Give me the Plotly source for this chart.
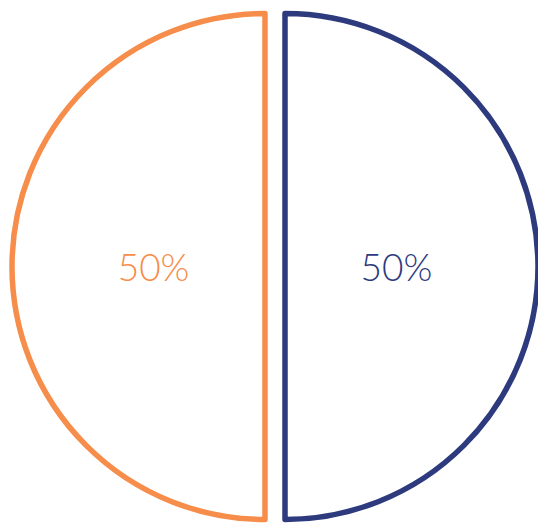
import plotly.graph_objects as go

labels = ["Right", "Left"]
values = [50, 50]
names = ["navy", "orange"]
colors = {"orange": "#F68D4A", "navy": "#2D3A7E"}

total = sum(values)
pct = [f"{v / total * 100:.0f}%" for v in values]

W, H = 538, 527
# each half drawn by its own pie trace so the two halves can sit apart
domains = {
    "orange": dict(x=[12.0 / W, 518.0 / W], y=[7.5 / H, 513.5 / H]),
    "navy": dict(x=[32.0 / W, 538.0 / W], y=[7.5 / H, 513.5 / H]),
}
# non-breaking spaces nudge each label toward the straight edge
pad = "\u00a0" * 3

fig = go.Figure()
for i, name in enumerate(names):
    c = colors[name]
    fills = ["rgba(0,0,0,0)"] * len(values)
    lines = ["rgba(0,0,0,0)"] * len(values)
    texts = [""] * len(values)
    fills[i] = "white"
    lines[i] = c
    texts[i] = (pct[i] + pad) if name == "navy" else (pad + pct[i])
    fig.add_trace(go.Pie(
        labels=labels,
        values=values,
        sort=False,
        direction="clockwise",
        rotation=0,
        marker=dict(colors=fills, line=dict(color=lines, width=5.5)),
        text=texts,
        textinfo="text",
        textposition="inside",
        insidetextorientation="horizontal",
        insidetextfont=dict(color=c, size=37, family="Lato", weight=300),
        hoverinfo="none",
        showlegend=False,
        domain=domains[name],
    ))

fig.update_layout(
    width=W, height=H,
    margin=dict(l=0, r=0, t=0, b=0),
    paper_bgcolor="white",
    plot_bgcolor="white",
)
fig.write_html(
    "out.html",
    config={"displayModeBar": False},
    post_script="document.body.style.margin='0';document.body.style.overflow='hidden';",
)
